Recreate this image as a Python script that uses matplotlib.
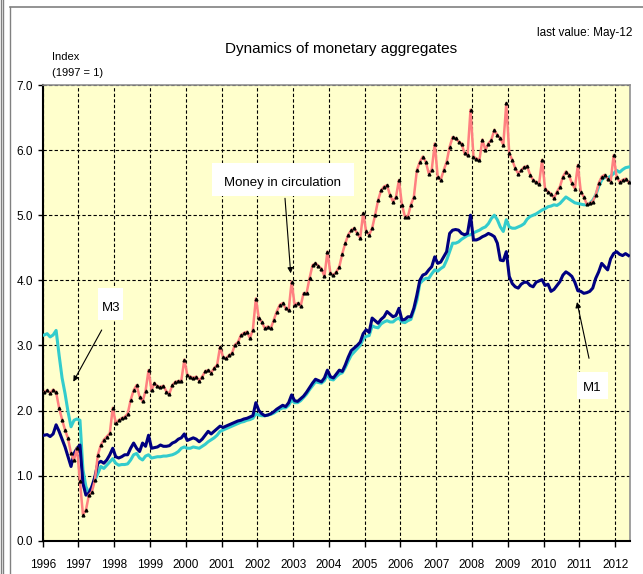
import matplotlib.pyplot as plt
from matplotlib.lines import Line2D
from matplotlib.patches import Rectangle
import numpy as np

plt.rcParams["font.family"] = ["Liberation Sans", "DejaVu Sans"]
plt.rcParams["font.stretch"] = "condensed"

# monthly index values (1997 = 1), Jan 1996 .. May 2012
years = [str(y) for y in range(1996, 2013)]

m3 = [
    3.16, 3.18, 3.13, 3.16, 3.23, 2.85, 2.50, 2.26, 1.98, 1.75, 1.85, 1.87,
    1.85, 1.09, 0.83, 0.73, 0.83, 0.93, 1.03, 1.14, 1.11, 1.16, 1.21, 1.26,
    1.19, 1.16, 1.17, 1.17, 1.18, 1.24, 1.32, 1.34, 1.27, 1.24, 1.30, 1.32,
    1.27, 1.28, 1.29, 1.29, 1.30, 1.30, 1.31, 1.32, 1.34, 1.37, 1.42, 1.44,
    1.42, 1.42, 1.44, 1.43, 1.42, 1.45, 1.48, 1.52, 1.55, 1.58, 1.62, 1.68,
    1.70, 1.72, 1.74, 1.76, 1.78, 1.80, 1.82, 1.83, 1.85, 1.86, 1.88, 1.95,
    1.93, 1.92, 1.92, 1.93, 1.94, 1.96, 1.99, 2.02, 2.04, 2.04, 2.08, 2.16,
    2.12, 2.12, 2.15, 2.20, 2.25, 2.32, 2.38, 2.44, 2.43, 2.42, 2.46, 2.55,
    2.48, 2.47, 2.52, 2.56, 2.58, 2.66, 2.76, 2.85, 2.90, 2.95, 3.00, 3.10,
    3.14, 3.15, 3.30, 3.28, 3.27, 3.33, 3.36, 3.38, 3.36, 3.36, 3.40, 3.42,
    3.36, 3.35, 3.38, 3.40, 3.54, 3.69, 3.95, 4.00, 4.03, 4.03, 4.10, 4.16,
    4.14, 4.18, 4.21, 4.31, 4.44, 4.57, 4.57, 4.59, 4.63, 4.66, 4.69, 4.70,
    4.73, 4.75, 4.77, 4.80, 4.82, 4.87, 4.95, 5.00, 4.93, 4.82, 4.75, 4.93,
    4.82, 4.80, 4.80, 4.82, 4.84, 4.87, 4.94, 4.98, 5.00, 5.02, 5.05, 5.08,
    5.10, 5.13, 5.14, 5.16, 5.15, 5.18, 5.23, 5.28, 5.25, 5.22, 5.19, 5.18,
    5.17, 5.16, 5.16, 5.18, 5.23, 5.31, 5.44, 5.54, 5.59, 5.57, 5.60, 5.64,
    5.69, 5.66, 5.70, 5.73, 5.74,
]

m1 = [
    1.62, 1.63, 1.60, 1.64, 1.78, 1.68, 1.56, 1.44, 1.29, 1.14, 1.34, 1.42,
    1.47, 0.88, 0.70, 0.73, 0.83, 0.98, 1.19, 1.22, 1.19, 1.24, 1.32, 1.42,
    1.29, 1.27, 1.29, 1.32, 1.32, 1.42, 1.50, 1.42, 1.37, 1.50, 1.45, 1.62,
    1.42, 1.43, 1.44, 1.47, 1.45, 1.45, 1.46, 1.50, 1.52, 1.56, 1.58, 1.64,
    1.54, 1.56, 1.58, 1.56, 1.52, 1.56, 1.62, 1.68, 1.64, 1.68, 1.72, 1.76,
    1.74, 1.76, 1.78, 1.80, 1.82, 1.84, 1.85, 1.87, 1.88, 1.90, 1.92, 2.12,
    2.00, 1.95, 1.92, 1.93, 1.95, 1.98, 2.02, 2.05, 2.08, 2.06, 2.12, 2.24,
    2.15, 2.14, 2.18, 2.22, 2.28, 2.35, 2.42, 2.48, 2.46, 2.44, 2.50, 2.62,
    2.52, 2.50, 2.56, 2.62, 2.60, 2.70, 2.82, 2.92, 2.96, 3.00, 3.05, 3.18,
    3.24, 3.20, 3.42, 3.38, 3.34, 3.40, 3.44, 3.52, 3.48, 3.44, 3.46, 3.57,
    3.39, 3.40, 3.44, 3.44, 3.57, 3.77, 4.00, 4.08, 4.10, 4.16, 4.21, 4.36,
    4.26, 4.28, 4.36, 4.44, 4.72, 4.77, 4.78, 4.77, 4.72, 4.70, 4.72, 5.00,
    4.62, 4.62, 4.64, 4.67, 4.69, 4.72, 4.70, 4.67, 4.57, 4.31, 4.30, 4.44,
    4.06, 3.95, 3.90, 3.88, 3.94, 3.97, 3.97, 3.92, 3.90, 3.97, 3.99, 4.01,
    3.92, 3.94, 3.83, 3.86, 3.92, 3.98, 4.08, 4.13, 4.10, 4.06, 3.97, 3.84,
    3.83, 3.80, 3.81, 3.83, 3.88, 4.03, 4.13, 4.26, 4.21, 4.16, 4.33, 4.41,
    4.44, 4.40, 4.38, 4.41, 4.38,
]

money = [
    2.28, 2.31, 2.27, 2.32, 2.28, 2.04, 1.86, 1.70, 1.57, 1.34, 1.24, 1.42,
    0.91, 0.40, 0.47, 0.70, 0.75, 0.93, 1.32, 1.47, 1.55, 1.60, 1.65, 2.04,
    1.81, 1.85, 1.88, 1.90, 1.95, 2.16, 2.31, 2.39, 2.21, 2.14, 2.30, 2.62,
    2.31, 2.42, 2.37, 2.36, 2.38, 2.29, 2.26, 2.39, 2.44, 2.45, 2.46, 2.78,
    2.55, 2.52, 2.50, 2.52, 2.46, 2.52, 2.60, 2.62, 2.58, 2.65, 2.70, 2.98,
    2.82, 2.80, 2.85, 2.88, 3.01, 3.05, 3.16, 3.19, 3.21, 3.11, 3.24, 3.72,
    3.42, 3.36, 3.26, 3.29, 3.26, 3.39, 3.52, 3.62, 3.65, 3.57, 3.54, 3.98,
    3.62, 3.65, 3.60, 3.80, 3.80, 4.03, 4.23, 4.26, 4.22, 4.18, 4.06, 4.44,
    4.11, 4.08, 4.13, 4.21, 4.41, 4.57, 4.70, 4.77, 4.80, 4.72, 4.65, 5.03,
    4.75, 4.70, 4.80, 5.00, 5.23, 5.38, 5.44, 5.46, 5.31, 5.21, 5.28, 5.54,
    5.16, 4.98, 4.98, 5.16, 5.28, 5.69, 5.82, 5.90, 5.82, 5.64, 5.70, 6.10,
    5.59, 5.54, 5.69, 5.82, 6.05, 6.20, 6.18, 6.13, 6.10, 5.95, 5.92, 6.62,
    5.90, 5.87, 5.85, 6.16, 6.00, 6.10, 6.16, 6.31, 6.23, 6.18, 6.08, 6.72,
    5.95, 5.85, 5.72, 5.64, 5.69, 5.74, 5.75, 5.62, 5.54, 5.51, 5.48, 5.85,
    5.41, 5.36, 5.33, 5.26, 5.36, 5.44, 5.59, 5.67, 5.62, 5.49, 5.41, 5.77,
    5.36, 5.28, 5.17, 5.18, 5.21, 5.31, 5.49, 5.59, 5.62, 5.56, 5.51, 5.92,
    5.59, 5.51, 5.54, 5.56, 5.51,
]

W, H = 643, 574


def fx(x):
    return x / W


def fy(y):
    return 1 - y / H


fig = plt.figure(figsize=(W / 100, H / 100), dpi=100)
ax = fig.add_axes([fx(42.7), fy(540.7), (630 - 42.7) / W, (540.7 - 85) / H])
ax.set_facecolor("#FFFFCC")

months = np.arange(len(m3))
ax.plot(months, m3, color="#33CCCC", lw=2.2, zorder=3)
ax.plot(months, m1, color="#000080", lw=2.2, zorder=4)
ax.plot(months, money, color="#FF8080", lw=1.8, marker="^", ms=2.0,
        mfc="black", mec="black", zorder=5)

ax.set_xlim(-0.5, len(m3) - 0.5)
ax.set_ylim(0, 7)
ax.set_xticks(np.arange(len(years)) * 12 - 0.5)
ax.set_xticklabels(years)
ax.set_yticks(np.arange(8))
ax.set_yticklabels(["%.1f" % v for v in range(8)])
ax.grid(True, color="black", ls=(0, (3, 2)), lw=0.8)
ax.set_axisbelow(True)

ax.tick_params(axis="x", direction="out", length=4, width=1, pad=9.5, labelsize=8.5)
ax.tick_params(axis="y", direction="out", length=3.5, width=1, pad=3.5, labelsize=8.5)
for s in ["left", "bottom"]:
    ax.spines[s].set_color("black")
    ax.spines[s].set_linewidth(1.5)
for s in ["top", "right"]:
    ax.spines[s].set_color("#909090")
    ax.spines[s].set_linewidth(1.2)

# titles and labels
fig.text(fx(341), fy(53), "Dynamics of monetary aggregates", ha="center",
         va="baseline", fontsize=11)
fig.text(fx(632), fy(36), "last value: May-12", ha="right", va="baseline",
         fontsize=8.5)
fig.text(fx(52), fy(60.5), "Index", ha="left", va="baseline", fontsize=8)
fig.text(fx(52), fy(75.5), "(1997 = 1)", ha="left", va="baseline", fontsize=8)

# annotation boxes
boxes = [
    ((211.7, 163.3, 354, 195.7), "Money in circulation", (283, 185.5)),
    ((98.3, 288.3, 123.3, 320), "M3", (110.8, 311)),
    ((577.3, 371.7, 607.7, 399), "M1", (592.5, 391)),
]
for (x0, y0, x1, y1), label, (tx, ty) in boxes:
    fig.add_artist(Rectangle((fx(x0), fy(y1)), (x1 - x0) / W, (y1 - y0) / H,
                             transform=fig.transFigure, facecolor="white",
                             edgecolor="none", zorder=6))
    fig.text(fx(tx), fy(ty), label, ha="center", va="baseline", fontsize=9.5,
             zorder=7)

arrows = [
    ((285, 198.3), (290.7, 273.3)),
    ((101.7, 330), (73.3, 381.7)),
    ((589, 358.3), (577, 302)),
]
for (sx, sy), (ex, ey) in arrows:
    ax.annotate("", xy=(ex, H - ey), xytext=(sx, H - sy),
                xycoords="figure pixels", textcoords="figure pixels",
                arrowprops=dict(arrowstyle="-|>", color="black", lw=0.8,
                                mutation_scale=8, shrinkA=0, shrinkB=0),
                zorder=8)

# chart frame
fig.add_artist(Line2D([fx(0.5), fx(0.5)], [0, 1], color="#808080", lw=1))
fig.add_artist(Line2D([fx(3), fx(3)], [0, 1], color="#808080", lw=1))
fig.add_artist(Line2D([fx(10), fx(10)], [0, fy(7)], color="#808080", lw=1))
fig.add_artist(Line2D([fx(10), 1], [fy(7), fy(7)], color="#808080", lw=1.2))

fig.savefig("out.png", dpi=100)
